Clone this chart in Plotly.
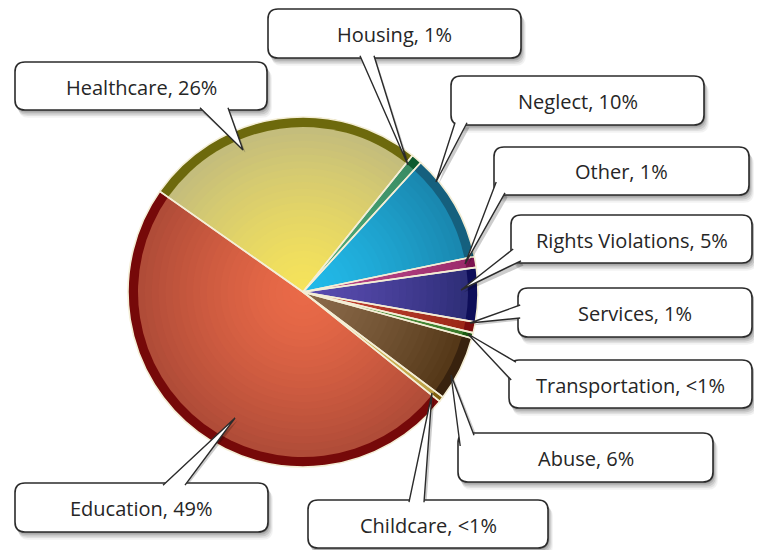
import plotly.graph_objects as go

W, H = 762, 550
# the page body adds an 8px margin; compensate so the picture lands where the reference has it
OFF = 8

# ---- data ----
labels = ["Healthcare", "Housing", "Neglect", "Other", "Rights Violations",
          "Services", "Transportation", "Abuse", "Childcare", "Education"]
values = [26, 1, 10, 1, 5, 1, 0.5, 6, 0.5, 49]
pct_labels = ["26%", "1%", "10%", "1%", "5%", "1%", "<1%", "6%", "<1%", "49%"]

# ---- styles ----
center_colors = ["#f6e35a", "#4fae7c", "#22bbea", "#bb4a8c", "#5a4cb0",
                 "#c44434", "#5c9e4a", "#8a6a4a", "#dcc466", "#ea6a48"]
edge_colors = ["#c4bd7c", "#3a8c64", "#1a88b0", "#9c2c6c", "#2e2e78",
               "#9c2818", "#3a7a2a", "#553818", "#bca044", "#b04c38"]
rim_colors = ["#6d690c", "#0d5a2e", "#15607e", "#7c1450", "#0e0e58",
              "#7c0e0e", "#1a5a10", "#38220e", "#806010", "#760909"]

CX, CY, R, R_IN = 303, 292, 175, 165
ROT = -54.9

# callout layout: box (x0, y0, x1, y1), tail base points, tail tip (pixels)
callouts = [
    ((15, 62, 267, 110), (200, 110), (228, 110), (243, 150)),
    ((268, 9, 521, 58), (360, 58), (374, 58), (408, 165)),
    ((451, 76, 704, 125), (455, 125), (467, 125), (436, 182)),
    ((494, 147, 749, 195), (494, 182), (505, 195), (465, 264)),
    ((511, 215, 752, 263), (511, 249), (521, 263), (461, 290)),
    ((518, 288, 752, 337), (518, 305), (518, 318), (470, 323)),
    ((509, 360, 752, 408), (509, 380), (516, 360), (468, 334)),
    ((458, 433, 713, 482), (458, 446), (474, 433), (451, 375)),
    ((308, 500, 548, 548), (409, 500), (424, 500), (432, 393)),
    ((15, 483, 268, 532), (163, 483), (185, 483), (235, 418)),
]


def px(x):
    return (x - OFF) / W


def py(y):
    return 1 - (y - OFF) / H


def hex2rgb(h):
    h = h.lstrip("#")
    return tuple(int(h[i:i + 2], 16) for i in (0, 2, 4))


def mix(c1, c2, t):
    a, b = hex2rgb(c1), hex2rgb(c2)
    return "rgb(%d,%d,%d)" % tuple(round(a[i] + (b[i] - a[i]) * t) for i in range(3))


fig = go.Figure()


def add_pie(radius, colors, line_color="rgba(0,0,0,0)", line_width=0, hover=False):
    fig.add_trace(go.Pie(
        labels=labels, values=values, sort=False, direction="clockwise",
        rotation=ROT,
        marker=dict(colors=colors, line=dict(color=line_color, width=line_width)),
        textinfo="none", hoverinfo="label+percent" if hover else "skip",
        showlegend=False,
        domain=dict(x=[px(CX - radius), px(CX + radius)],
                    y=[py(CY + radius), py(CY - radius)]),
    ))


# outer rim
add_pie(R, rim_colors)
# radial gradient body
N = 24
for k in range(N):
    r = R_IN * (1 - k / N)
    s = r / R_IN
    cols = [mix(c, e, s ** 1.4) for c, e in zip(center_colors, edge_colors)]
    add_pie(r, cols)
# slice separators and outline
add_pie(R, ["rgba(0,0,0,0)"] * len(values), line_color="#f4eed6", line_width=1.6, hover=True)


def rrect(x0, y0, x1, y1, r):
    return (f"M {px(x0 + r)},{py(y0)} L {px(x1 - r)},{py(y0)} "
            f"Q {px(x1)},{py(y0)} {px(x1)},{py(y0 + r)} L {px(x1)},{py(y1 - r)} "
            f"Q {px(x1)},{py(y1)} {px(x1 - r)},{py(y1)} L {px(x0 + r)},{py(y1)} "
            f"Q {px(x0)},{py(y1)} {px(x0)},{py(y1 - r)} L {px(x0)},{py(y0 + r)} "
            f"Q {px(x0)},{py(y0)} {px(x0 + r)},{py(y0)} Z")


def tail(b1, tip, b2, dx=0, dy=0):
    return (f"M {px(b1[0] + dx)},{py(b1[1] + dy)} L {px(tip[0] + dx)},{py(tip[1] + dy)} "
            f"L {px(b2[0] + dx)},{py(b2[1] + dy)}")


def inward(p, box, d=2.2):
    x, y = p
    if abs(x - box[0]) < 1.5:
        x += d
    elif abs(x - box[2]) < 1.5:
        x -= d
    if abs(y - box[1]) < 1.5:
        y += d
    elif abs(y - box[3]) < 1.5:
        y -= d
    return (x, y)


shapes = []
annotations = []
BORDER = "#2b2b2b"
for (box, b1, b2, tip), lab, pct in zip(callouts, labels, pct_labels):
    x0, y0, x1, y1 = box
    # soft drop shadow
    for k, op in [(7, 0.05), (5.5, 0.07), (4, 0.10), (2.5, 0.13), (1.2, 0.16)]:
        shapes.append(dict(type="path", xref="paper", yref="paper",
                           path=rrect(x0 + k * 0.5, y0 + k, x1 + k * 0.7, y1 + k * 1.1, 10),
                           fillcolor=f"rgba(0,0,0,{op})", line=dict(width=0)))
    # tail shadow
    shapes.append(dict(type="path", xref="paper", yref="paper",
                       path=tail(b1, tip, b2, 2.5, 2.5) + " Z",
                       fillcolor="rgba(0,0,0,0.2)", line=dict(width=0)))
    # box
    shapes.append(dict(type="path", xref="paper", yref="paper",
                       path=rrect(x0, y0, x1, y1, 10),
                       fillcolor="white", line=dict(color=BORDER, width=1.6)))
    # tail
    ib1, ib2 = inward(b1, box), inward(b2, box)
    shapes.append(dict(type="path", xref="paper", yref="paper",
                       path=tail(ib1, tip, ib2),
                       fillcolor="white", line=dict(color=BORDER, width=1.4)))
    annotations.append(dict(
        x=px((x0 + x1) / 2), y=py((y0 + y1) / 2 + 1), xref="paper", yref="paper",
        text=f"{lab}, {pct}", showarrow=False, xanchor="center", yanchor="middle",
        font=dict(family="Open Sans", size=20, color="#262626"),
    ))

fig.update_layout(
    width=W, height=H, margin=dict(l=0, r=0, t=0, b=0),
    paper_bgcolor="white", plot_bgcolor="white",
    shapes=shapes, annotations=annotations, showlegend=False,
)

fig.write_html("out.html")
